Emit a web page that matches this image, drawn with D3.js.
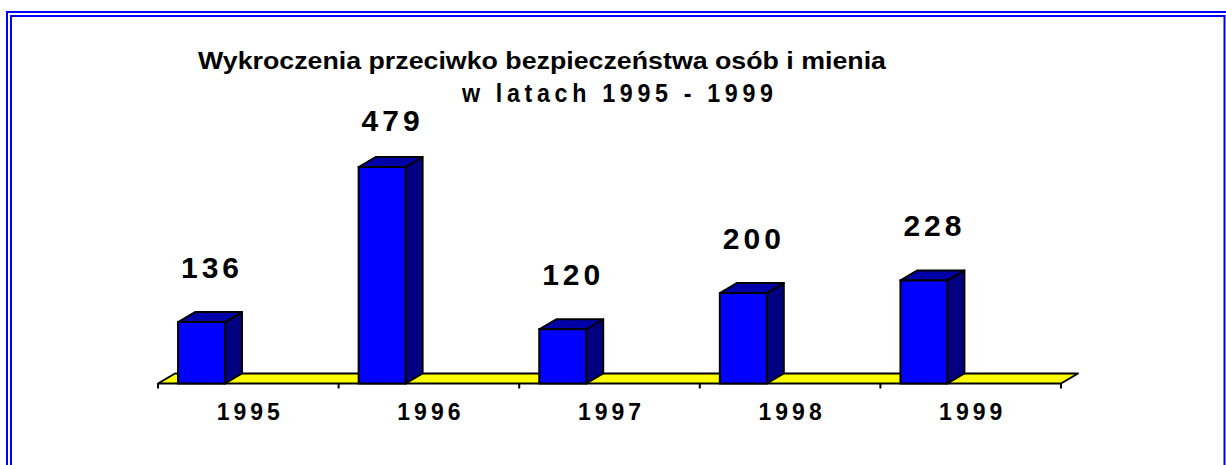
<!DOCTYPE html>
<html>
<head>
<meta charset="utf-8">
<script src="https://cdn.jsdelivr.net/npm/d3@7"></script>
<style>
  html, body { margin: 0; padding: 0; background: #fff; }
  svg { display: block; font-family: 'Liberation Sans', Arial, sans-serif; }
</style>
</head>
<body>
<svg id="chart"></svg>
<script>
const years = ['1995', '1996', '1997', '1998', '1999']
const values = [136, 479, 120, 200, 228]
const titleLines = ['Wykroczenia przeciwko bezpieczeństwa osób i mienia', 'w latach 1995 - 1999']

const dimension = { width: 1226, height: 465 }
const depth = { dx: 17, dy: 10 }

const svg = d3.select('#chart')
  .attr('width', dimension.width)
  .attr('height', dimension.height)

// double blue frame
svg.append('rect')
  .attr('x', 7).attr('y', 12)
  .attr('width', 1240).attr('height', 480)
  .attr('fill', 'none').attr('stroke', '#0000ff').attr('stroke-width', 2)
svg.append('rect')
  .attr('x', 11).attr('y', 16)
  .attr('width', 1213.5).attr('height', 480)
  .attr('fill', 'none').attr('stroke', '#0000ff').attr('stroke-width', 2)

// title
svg.append('text')
  .attr('x', 198).attr('y', 69)
  .attr('font-size', 23).attr('font-weight', 'bold')
  .attr('textLength', 688).attr('lengthAdjust', 'spacingAndGlyphs')
  .text(titleLines[0])
// second line: slightly condensed glyphs, spaced out
svg.append('text')
  .attr('transform', 'translate(462, 102) scale(0.93, 1)')
  .attr('font-size', 25).attr('font-weight', 'bold')
  .attr('textLength', 311 / 0.93).attr('lengthAdjust', 'spacing')
  .text(titleLines[1])

const xScale = d3.scaleBand().domain(years).range([158, 1061]).padding(0)
const yScale = d3.scaleLinear().domain([0, 500]).range([383.5, 157.5])
const bw = xScale.bandwidth()
const barW = bw * 0.26
const barOff = bw * 0.111
const base = yScale(0)

// floor
const x0 = xScale.range()[0], x1 = xScale.range()[1]
svg.append('path')
  .attr('d', `M${x0},${base} L${x0 + depth.dx},${base - depth.dy} L${x1 + depth.dx},${base - depth.dy} L${x1},${base} Z`)
  .attr('fill', '#ffff00').attr('stroke', '#000').attr('stroke-width', 2)
  .attr('stroke-linejoin', 'round')

// ticks at category boundaries
const bounds = years.map((d) => xScale(d)).concat([x1])
svg.append('g').selectAll('line')
  .data(bounds)
  .enter()
  .append('line')
  .attr('x1', (d) => d).attr('x2', (d) => d)
  .attr('y1', base).attr('y2', base + 5)
  .attr('stroke', '#000').attr('stroke-width', 2)

// bars
const bars = svg.append('g').selectAll('g')
  .data(years.map((y, i) => ({ year: y, value: values[i] })))
  .enter()
  .append('g')

bars.each(function (d) {
  const g = d3.select(this)
  const bx = xScale(d.year) + barOff
  const top = yScale(d.value)
  // side
  g.append('path')
    .attr('d', `M${bx + barW},${base} L${bx + barW + depth.dx},${base - depth.dy} L${bx + barW + depth.dx},${top - depth.dy} L${bx + barW},${top} Z`)
    .attr('fill', '#000080').attr('stroke', '#000').attr('stroke-width', 2).attr('stroke-linejoin', 'round')
  // top
  g.append('path')
    .attr('d', `M${bx},${top} L${bx + depth.dx},${top - depth.dy} L${bx + barW + depth.dx},${top - depth.dy} L${bx + barW},${top} Z`)
    .attr('fill', '#0000a8').attr('stroke', '#000').attr('stroke-width', 2).attr('stroke-linejoin', 'round')
  // front
  g.append('rect')
    .attr('x', bx).attr('y', top)
    .attr('width', barW).attr('height', base - top)
    .attr('fill', '#0000ff').attr('stroke', '#000').attr('stroke-width', 2)
  // value label
  g.append('text')
    .attr('x', bx + (barW + depth.dx) / 2 + 2)
    .attr('y', Math.max(yScale(d.value) - depth.dy - 34, 131))
    .attr('text-anchor', 'middle')
    .attr('font-size', 30).attr('font-weight', 'bold')
    .attr('letter-spacing', 4)
    .text(d.value)
})

// year labels
const xAxis = svg.append('g')
  .attr('transform', `translate(0, ${base})`)
  .call(d3.axisBottom(xScale).tickSize(0).tickPadding(20))
xAxis.select('.domain').remove()
xAxis.selectAll('.tick text')
  .attr('font-family', "'Liberation Sans', Arial, sans-serif")
  .attr('font-size', 23).attr('font-weight', 'bold')
  .attr('letter-spacing', 4)
  .attr('fill', '#000')
  .attr('dx', 2)
</script>
</body>
</html>
